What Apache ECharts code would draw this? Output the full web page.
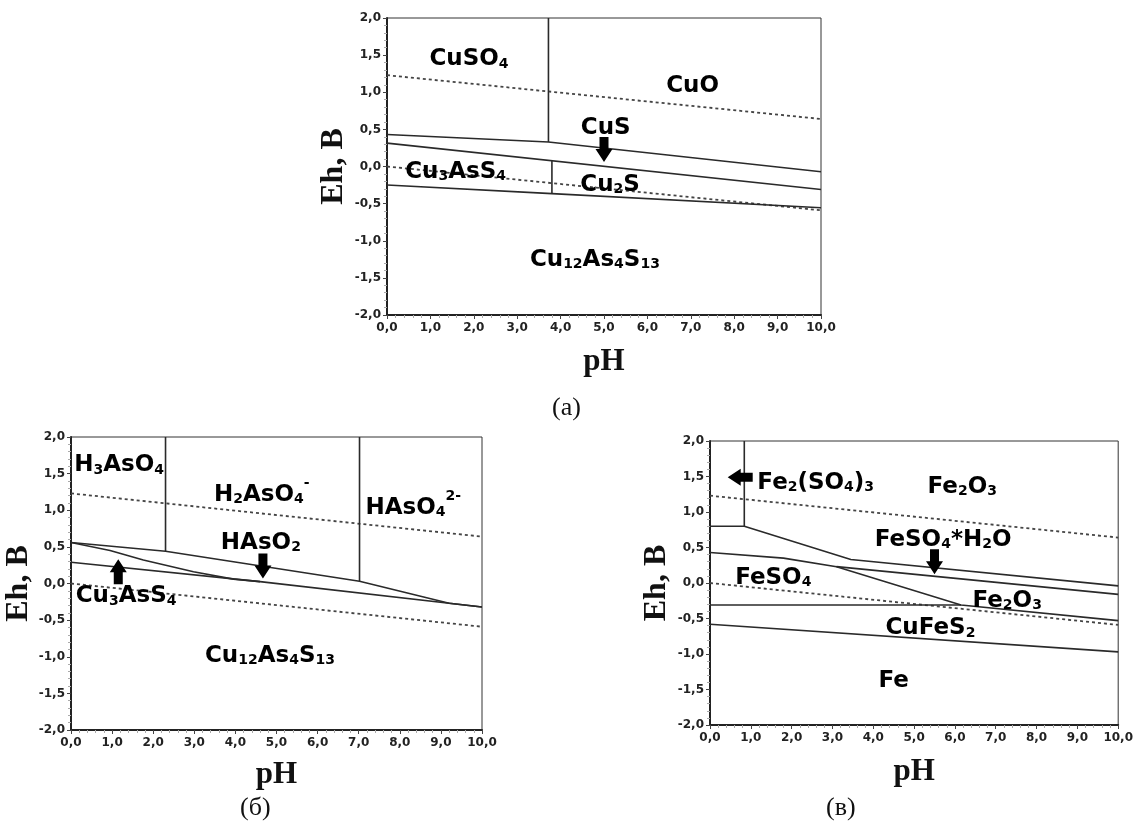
<!DOCTYPE html>
<html>
<head>
<meta charset="utf-8">
<script src="https://cdn.jsdelivr.net/npm/echarts@6/dist/echarts.min.js"></script>
<style>
  html, body { margin: 0; padding: 0; background: #fff; }
  #pourbaix { width: 1136px; height: 827px; }
</style>
</head>
<body>
<div id="pourbaix"></div>
<script>
// линии устойчивости воды (пунктир)
const waterO2 = [[0, 1.23], [10, 0.64]]
const waterH2 = [[0, 0.0], [10, -0.59]]

// (а) границы полей
const aLines = [
  [[3.72, 2.0], [3.72, 0.33]],
  [[0, 0.43], [3.72, 0.33], [10, -0.07]],
  [[0, 0.315], [10, -0.31]],
  [[3.8, 0.08], [3.8, -0.365]],
  [[0, -0.25], [3.8, -0.365], [10, -0.555]]
]
const aLabels = [
  [1.89, 1.49, 'CuSO4'],
  [7.04, 1.13, 'CuO'],
  [5.04, 0.56, 'CuS'],
  [1.58, -0.03, 'Cu3AsS4'],
  [5.14, -0.2, 'Cu2S'],
  [4.79, -1.21, 'Cu12As4S13']
]
const aArrows = [[5.0, 0.23, 0]]

// (б)
const bLines = [
  [[2.3, 2.0], [2.3, 0.44]],
  [[7.02, 2.0], [7.02, 0.03]],
  [[0, 0.56], [2.3, 0.44], [7.02, 0.03], [9.2, -0.27], [10, -0.32]],
  [[0, 0.56], [0.95, 0.45], [1.76, 0.32], [2.98, 0.16], [3.95, 0.06], [4.6, 0.025]],
  [[0, 0.29], [4.6, 0.025], [10, -0.32]]
]
const bLabels = [
  [1.17, 1.66, 'H3AsO4'],
  [4.64, 1.26, 'H2AsO4^-'],
  [8.33, 1.08, 'HAsO4^2-'],
  [4.62, 0.6, 'HAsO2'],
  [1.34, -0.13, 'Cu3AsS4'],
  [4.84, -0.94, 'Cu12As4S13']
]
const bArrows = [[1.15, 0.16, 180], [4.67, 0.24, 0]]

// (в)
const cLines = [
  [[0.84, 2.0], [0.84, 0.8]],
  [[0, 0.8], [0.84, 0.8], [3.45, 0.33], [10, -0.04]],
  [[0, 0.43], [1.8, 0.35], [3.1, 0.23], [10, -0.16]],
  [[3.1, 0.23], [6.15, -0.31], [10, -0.53]],
  [[0, -0.31], [6.15, -0.31]],
  [[0, -0.58], [10, -0.97]]
]
const cLabels = [
  [2.59, 1.46, 'Fe2(SO4)3'],
  [6.18, 1.4, 'Fe2O3'],
  [5.71, 0.65, 'FeSO4*H2O'],
  [1.55, 0.12, 'FeSO4'],
  [7.28, -0.2, 'Fe2O3'],
  [5.4, -0.59, 'CuFeS2'],
  [4.5, -1.33, 'Fe']
]
const cArrows = [[0.74, 1.49, -90], [5.5, 0.3, 0]]

const grids = [
  { left: 387, top: 18, width: 434, height: 297, ehGap: 37, phGap: 31 },
  { left: 71, top: 437, width: 411, height: 293, ehGap: 33, phGap: 29 },
  { left: 710, top: 441, width: 410, height: 284, ehGap: 37, phGap: 31 }
]

// формула -> rich text: цифры в индекс, ^... в верхний индекс
const formula = (s) => {
  let sup = ''
  const k = s.indexOf('^')
  if (k >= 0) {
    sup = s.slice(k + 1)
    s = s.slice(0, k)
  }
  let out = s.replace(/(\d+)|([^\d]+)/g, (m, d, t) => d ? '{s|' + d + '}' : '{m|' + t + '}')
  if (sup) out += '{p|' + sup + '}'
  return out
}

const numFmt = (v) => v.toFixed(1).replace('.', ',')

const txt = { fontFamily: 'DejaVu Sans', fontWeight: 'bold', color: '#000', textBorderWidth: 0 }
const labelRich = {
  m: { ...txt, fontSize: 23, lineHeight: 30, verticalAlign: 'bottom' },
  s: { ...txt, fontSize: 14, lineHeight: 18, verticalAlign: 'bottom' },
  p: { ...txt, fontSize: 14, lineHeight: 22, verticalAlign: 'top' }
}

const arrowPath = 'path://M4,0 L13,0 L13,12 L17,12 L8.5,25 L0,12 L4,12 Z'

const makeSeries = (gi, lines, labels, arrows) => {
  const list = []
  list.push({
    type: 'line', xAxisIndex: gi, yAxisIndex: gi, data: waterO2, symbol: 'none', silent: true,
    lineStyle: { color: '#444', width: 1.8, type: [3, 3] }
  })
  list.push({
    type: 'line', xAxisIndex: gi, yAxisIndex: gi, data: waterH2, symbol: 'none', silent: true,
    lineStyle: { color: '#444', width: 1.8, type: [3, 3] }
  })
  lines.forEach((pts) => {
    list.push({
      type: 'line', xAxisIndex: gi, yAxisIndex: gi, data: pts, symbol: 'none', silent: true,
      lineStyle: { color: '#2a2a2a', width: 1.6 }
    })
  })
  list.push({
    type: 'scatter', xAxisIndex: gi, yAxisIndex: gi, data: labels, symbolSize: 0, silent: true, z: 5,
    itemStyle: { opacity: 1, color: 'transparent' },
    label: {
      show: true,
      position: 'inside',
      color: '#000',
      textBorderWidth: 0,
      formatter: (p) => formula(p.data[2]),
      rich: labelRich
    }
  })
  list.push({
    type: 'scatter', xAxisIndex: gi, yAxisIndex: gi, data: arrows, silent: true, z: 6,
    symbol: arrowPath,
    symbolSize: [17, 25],
    symbolRotate: (v) => v[2],
    itemStyle: { color: '#000', opacity: 1 }
  })
  return list
}

const chart = echarts.init(document.getElementById('pourbaix'))

const option = {
  backgroundColor: '#fff',
  animation: false,
  grid: grids.map((g) => ({
    left: g.left, top: g.top, width: g.width, height: g.height,
    show: true, borderColor: '#333', borderWidth: 1, backgroundColor: '#fff'
  })),
  xAxis: grids.map((g, i) => ({
    gridIndex: i,
    type: 'value',
    min: 0,
    max: 10,
    interval: 1,
    name: 'pH',
    nameLocation: 'middle',
    nameGap: g.phGap,
    nameTextStyle: { fontFamily: 'Liberation Serif', fontWeight: 'bold', fontSize: 31, color: '#111' },
    axisLine: { show: true, onZero: false, lineStyle: { color: '#222', width: 2 } },
    axisTick: { show: true, length: 4, lineStyle: { color: '#444' } },
    minorTick: { show: true, splitNumber: 5, length: 3, lineStyle: { color: '#aaa' } },
    splitLine: { show: false },
    axisLabel: { formatter: numFmt, fontFamily: 'DejaVu Sans', fontWeight: 'bold', fontSize: 12, color: '#222', margin: 7 }
  })),
  yAxis: grids.map((g, i) => ({
    gridIndex: i,
    type: 'value',
    min: -2,
    max: 2,
    interval: 0.5,
    name: 'Eh, B',
    nameLocation: 'middle',
    nameGap: g.ehGap,
    nameTextStyle: { fontFamily: 'Liberation Serif', fontWeight: 'bold', fontSize: 32, color: '#111' },
    axisLine: { show: true, onZero: false, lineStyle: { color: '#222', width: 2 } },
    axisTick: { show: true, length: 4, lineStyle: { color: '#444' } },
    minorTick: { show: true, splitNumber: 5, length: 3, lineStyle: { color: '#aaa' } },
    splitLine: { show: false },
    axisLabel: { formatter: numFmt, fontFamily: 'DejaVu Sans', fontWeight: 'bold', fontSize: 12, color: '#222', margin: 6 }
  })),
  graphic: [
    { type: 'text', left: 552, top: 395, style: { text: '(а)', font: '26px "Liberation Serif"', fill: '#111' } },
    { type: 'text', left: 240, top: 795, style: { text: '(б)', font: '26px "Liberation Serif"', fill: '#111' } },
    { type: 'text', left: 826, top: 795, style: { text: '(в)', font: '26px "Liberation Serif"', fill: '#111' } }
  ],
  series: [
    ...makeSeries(0, aLines, aLabels, aArrows),
    ...makeSeries(1, bLines, bLabels, bArrows),
    ...makeSeries(2, cLines, cLabels, cArrows)
  ]
}

chart.setOption(option)
window.onresize = () => {
  chart.resize()
}
</script>
</body>
</html>
